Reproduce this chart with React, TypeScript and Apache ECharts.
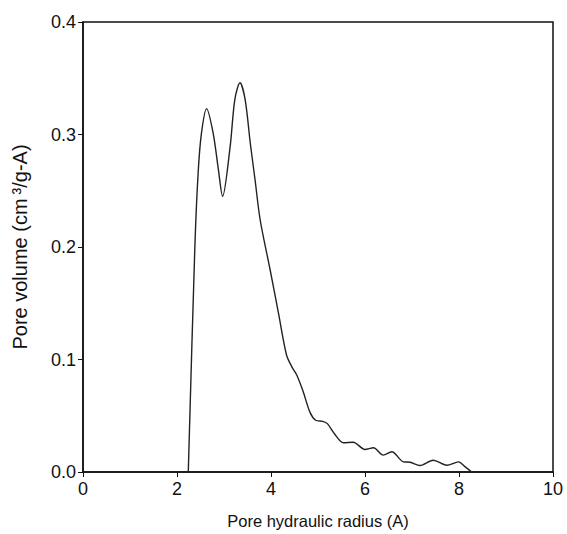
import React, { useEffect, useRef } from "react";
import * as echarts from "echarts";

const radius = [2.24, 2.38, 2.45, 2.52, 2.63, 2.77, 2.88, 2.97, 3.13, 3.23, 3.34, 3.45, 3.56, 3.66, 3.77, 3.98, 4.16, 4.33, 4.45, 4.55, 4.68, 4.83, 4.95, 5.1, 5.2, 5.35, 5.54, 5.75, 6.0, 6.18, 6.39, 6.57, 6.82, 6.96, 7.17, 7.45, 7.74, 7.99, 8.12, 8.27];
const volume = [0.0, 0.2, 0.266, 0.301, 0.323, 0.301, 0.269, 0.245, 0.289, 0.331, 0.346, 0.331, 0.292, 0.26, 0.224, 0.18, 0.141, 0.104, 0.093, 0.086, 0.072, 0.053, 0.046, 0.045, 0.043, 0.034, 0.026, 0.0265, 0.02, 0.0215, 0.015, 0.018, 0.009, 0.0087, 0.0058, 0.0105, 0.006, 0.009, 0.005, 0.0];
const xTicks = [0, 2, 4, 6, 8, 10];
const yTicks = [0, 0.1, 0.2, 0.3, 0.4];

export default function App() {
  const ref = useRef<HTMLDivElement>(null);
  useEffect(() => {
    const chart = echarts.init(ref.current!, null, { renderer: "svg" });
    const font = "'Liberation Sans', Arial, sans-serif";
    chart.setOption({
      animation: false,
      grid: { left: 83, right: 14, top: 22, bottom: 61.5, show: true, borderColor: "#111", borderWidth: 1.5, backgroundColor: "#fff" },
      xAxis: {
        type: "value",
        min: xTicks[0],
        max: xTicks[xTicks.length - 1],
        interval: 2,
        name: "Pore hydraulic radius (A)",
        nameLocation: "middle",
        nameGap: 40,
        nameTextStyle: { fontFamily: font, fontSize: 16.5, color: "#111" },
        axisLine: { lineStyle: { color: "#111", width: 1.5 } },
        axisTick: { show: true, length: 5, lineStyle: { color: "#111" } },
        axisLabel: { fontFamily: font, fontSize: 18, color: "#111", margin: 8 },
        splitLine: { show: false },
      },
      yAxis: {
        type: "value",
        min: yTicks[0],
        max: yTicks[yTicks.length - 1],
        interval: 0.1,
        name: "Pore volume (cm\u2009³/g-A)",
        nameLocation: "middle",
        nameGap: 53,
        nameTextStyle: { fontFamily: font, fontSize: 20, color: "#111" },
        axisLine: { lineStyle: { color: "#111", width: 1.5 } },
        axisTick: { show: true, length: 5, lineStyle: { color: "#111" } },
        axisLabel: { fontFamily: font, fontSize: 18, color: "#111", margin: 7, formatter: (v: number) => v.toFixed(1) },
        splitLine: { show: false },
      },
      series: [
        {
          type: "line",
          data: radius.map((r, i) => [r, volume[i]]),
          showSymbol: false,
          smooth: 0.3,
          lineStyle: { color: "#222", width: 1.4 },
        },
      ],
    });
    return () => chart.dispose();
  }, []);
  return <div ref={ref} style={{ position: "absolute", left: 0, top: 0, width: 567, height: 534 }} />;
}
